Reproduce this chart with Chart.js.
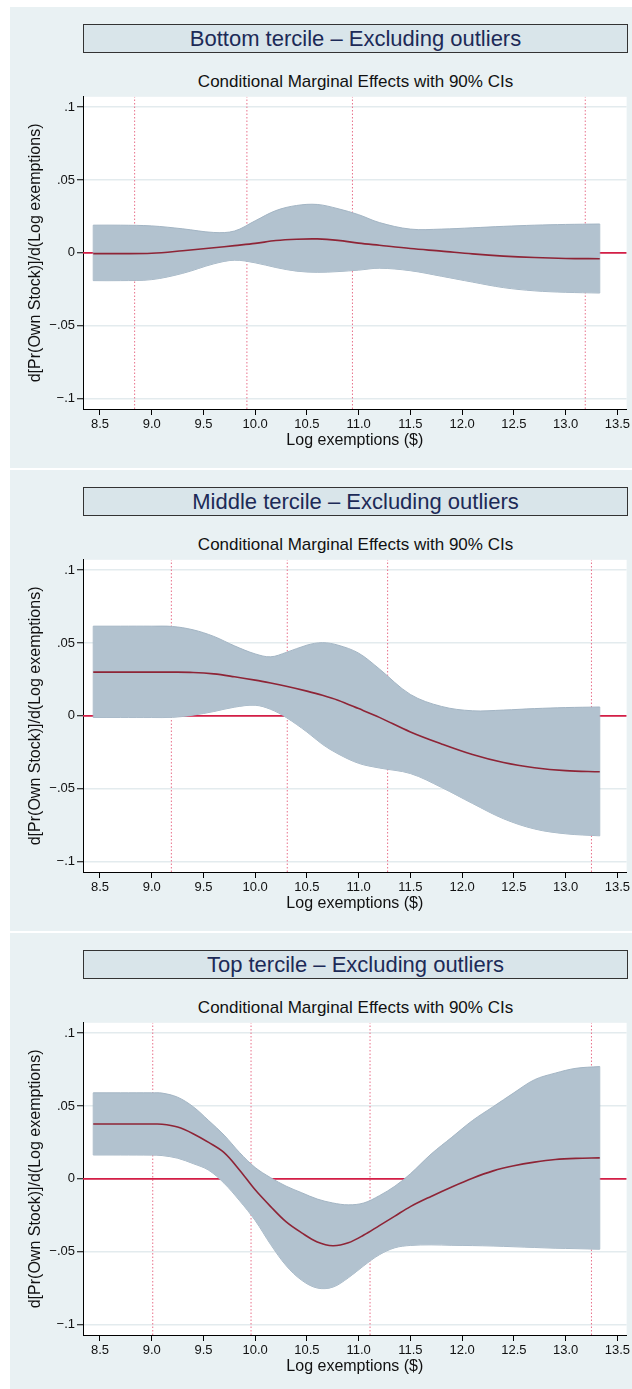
<!DOCTYPE html>
<html lang="en">
<head>
  <meta charset="UTF-8" />
  <title>Conditional Marginal Effects by tercile</title>
  <script src="https://cdn.jsdelivr.net/npm/chart.js"></script>
  <style>
    * { box-sizing: border-box; margin: 0; padding: 0; }
    html, body {
      width: 632px;
      height: 1389px;
      overflow: hidden;
      background: #ffffff;
      font-family: 'Liberation Sans', Arial, sans-serif;
    }
    .panel {
      position: absolute;
      left: 10px;
      width: 622px;
      height: 461px;
      background: #e9f1f3;
    }
    .tbox {
      position: absolute;
      left: 73px;
      top: 17px;
      width: 545px;
      height: 29px;
      border: 1px solid #333;
      background: #d9e5ea;
      color: #1c2a57;
      font-size: 22px;
      line-height: 27px;
      text-align: center;
    }
    .sub {
      position: absolute;
      left: 73px;
      top: 64px;
      width: 545px;
      height: 22px;
      font-size: 17px;
      line-height: 22px;
      text-align: center;
      color: #111;
    }
    .panel canvas {
      position: absolute;
      left: 0;
      top: 80px;
    }
  </style>
</head>
<body>
  <div class="panel" style="top:7px">
    <div class="tbox">Bottom tercile – Excluding outliers</div>
    <div class="sub">Conditional Marginal Effects with 90% CIs</div>
    <canvas id="c0" width="622" height="381"></canvas>
  </div>
  <div class="panel" style="top:470px">
    <div class="tbox">Middle tercile – Excluding outliers</div>
    <div class="sub">Conditional Marginal Effects with 90% CIs</div>
    <canvas id="c1" width="622" height="381"></canvas>
  </div>
  <div class="panel" style="top:933px">
    <div class="tbox">Top tercile – Excluding outliers</div>
    <div class="sub">Conditional Marginal Effects with 90% CIs</div>
    <canvas id="c2" width="622" height="381"></canvas>
  </div>

  <script>
    // axis ticks (shared by the three panels)
    const xTicks = [8.5, 9.0, 9.5, 10.0, 10.5, 11.0, 11.5, 12.0, 12.5, 13.0, 13.5];
    const yTicks = [-0.1, -0.05, 0, 0.05, 0.1];
    const yTickLabels = ['\u2212.1', '\u2212.05', '0', '.05', '.1'];
    const xRange = [8.336, 13.59];
    const yRange = [-0.107, 0.107];

    // bottom tercile
    const bottomX     = [8.435, 8.7, 9.0, 9.3, 9.6, 9.8, 10.0, 10.2, 10.4, 10.6, 10.8, 11.0, 11.2, 11.5, 11.8, 12.1, 12.4, 12.7, 13.0, 13.33];
    const bottomUpper = [0.0190, 0.0190, 0.0185, 0.0165, 0.0140, 0.0150, 0.0220, 0.0290, 0.0325, 0.0332, 0.0303, 0.0262, 0.0208, 0.0163, 0.0163, 0.0172, 0.0182, 0.0190, 0.0195, 0.0198];
    const bottomMid   = [-0.0005, -0.0005, -0.0002, 0.0015, 0.0035, 0.0050, 0.0065, 0.0085, 0.0094, 0.0096, 0.0086, 0.0067, 0.0052, 0.0030, 0.0012, -0.0007, -0.0022, -0.0032, -0.0038, -0.0040];
    const bottomLower = [-0.0190, -0.0190, -0.0183, -0.0140, -0.0075, -0.0050, -0.0068, -0.0100, -0.0125, -0.0133, -0.0128, -0.0118, -0.0105, -0.0122, -0.0160, -0.0200, -0.0238, -0.0260, -0.0270, -0.0275];
    const bottomPctl  = [8.835, 9.92, 10.94, 13.19];

    // middle tercile
    const middleX     = [8.435, 8.7, 9.0, 9.2, 9.4, 9.6, 9.8, 10.0, 10.15, 10.3, 10.5, 10.65, 10.8, 11.0, 11.2, 11.5, 11.8, 12.1, 12.4, 12.7, 13.0, 13.33];
    const middleUpper = [0.0615, 0.0615, 0.0615, 0.0613, 0.0590, 0.0545, 0.0480, 0.0425, 0.0405, 0.0435, 0.0485, 0.0502, 0.0485, 0.0430, 0.0322, 0.0147, 0.0065, 0.0035, 0.0040, 0.0050, 0.0057, 0.0061];
    const middleMid   = [0.0300, 0.0300, 0.0300, 0.0300, 0.0298, 0.0288, 0.0268, 0.0245, 0.0225, 0.0203, 0.0170, 0.0142, 0.0108, 0.0050, -0.0010, -0.0110, -0.0192, -0.0265, -0.0320, -0.0355, -0.0375, -0.0383];
    const middleLower = [-0.0011, -0.0011, -0.0011, -0.0010, 0.0005, 0.0030, 0.0060, 0.0073, 0.0045, -0.0011, -0.0110, -0.0195, -0.0260, -0.0325, -0.0357, -0.0395, -0.0490, -0.0600, -0.0705, -0.0775, -0.0808, -0.0822];
    const middlePctl  = [9.19, 10.31, 11.28, 13.25];

    // top tercile
    const topX     = [8.435, 8.7, 9.0, 9.1, 9.25, 9.4, 9.55, 9.7, 9.85, 10.0, 10.15, 10.3, 10.45, 10.6, 10.75, 10.9, 11.05, 11.2, 11.35, 11.5, 11.7, 11.9, 12.1, 12.3, 12.5, 12.7, 12.9, 13.1, 13.33];
    const topUpper = [0.0590, 0.0590, 0.0590, 0.0588, 0.0560, 0.0495, 0.0400, 0.0300, 0.0180, 0.0078, 0.0008, -0.0050, -0.0095, -0.0138, -0.0165, -0.0178, -0.0165, -0.0115, -0.0050, 0.0035, 0.0170, 0.0285, 0.0400, 0.0495, 0.0590, 0.0680, 0.0725, 0.0758, 0.0770];
    const topMid   = [0.0376, 0.0376, 0.0376, 0.0375, 0.0355, 0.0310, 0.0250, 0.0180, 0.0060, -0.0075, -0.0190, -0.0295, -0.0370, -0.0432, -0.0458, -0.0438, -0.0385, -0.0320, -0.0255, -0.0190, -0.0120, -0.0055, 0.0005, 0.0055, 0.0090, 0.0115, 0.0133, 0.0141, 0.0144];
    const topLower = [0.0164, 0.0164, 0.0163, 0.0160, 0.0142, 0.0105, 0.0060, -0.0030, -0.0150, -0.0285, -0.0450, -0.0595, -0.0695, -0.0748, -0.0742, -0.0678, -0.0595, -0.0520, -0.0472, -0.0456, -0.0452, -0.0455, -0.0457, -0.0460, -0.0465, -0.0470, -0.0475, -0.0478, -0.0482];
    const topPctl  = [9.01, 9.96, 11.11, 13.25];

    const FONT = "'Liberation Sans', Arial, sans-serif";

    // white plot region behind everything
    const plotBg = {
      id: 'plotBg',
      beforeDraw(chart) {
        const a = chart.chartArea, ctx = chart.ctx;
        ctx.save();
        ctx.fillStyle = '#ffffff';
        ctx.fillRect(a.left, a.top, a.right - a.left, a.bottom - a.top);
        ctx.restore();
      }
    };

    const pts = (xs, ys) => xs.map((x, i) => ({ x: x, y: ys[i] }));

    function drawPanel(id, xs, hi, mid, lo, pctl) {
      const n = xs.length - 1;
      const edge = '#a3b5c4';
      const datasets = [
        { data: pts(xs, mid), borderColor: '#8e2436', borderWidth: 1.6, pointRadius: 0, fill: false, tension: 0.35 },
        { data: pts(xs, hi), borderColor: edge, borderWidth: 1, pointRadius: 0, fill: '+1', backgroundColor: '#b2c2cf', tension: 0.35 },
        { data: pts(xs, lo), borderColor: edge, borderWidth: 1, pointRadius: 0, fill: false, tension: 0.35 },
        // closing edges at both ends of the band
        { data: [{ x: xs[0], y: lo[0] }, { x: xs[0], y: hi[0] }], borderColor: edge, borderWidth: 1, pointRadius: 0, fill: false },
        { data: [{ x: xs[n], y: lo[n] }, { x: xs[n], y: hi[n] }], borderColor: edge, borderWidth: 1, pointRadius: 0, fill: false },
        { data: [{ x: xRange[0], y: 0 }, { x: xRange[1], y: 0 }], borderColor: '#d41e46', borderWidth: 1.6, pointRadius: 0, fill: false }
      ];
      pctl.forEach(v => datasets.push({
        data: [{ x: v, y: yRange[0] }, { x: v, y: yRange[1] }],
        borderColor: '#e8708a', borderWidth: 1, borderDash: [1.5, 2], pointRadius: 0, fill: false
      }));

      new Chart(document.getElementById(id), {
        type: 'line',
        data: { datasets: datasets },
        plugins: [plotBg],
        options: {
          responsive: false,
          animation: false,
          events: [],
          layout: { padding: { top: 6, right: 1, left: 0, bottom: 0 } },
          plugins: { legend: { display: false }, tooltip: { enabled: false } },
          scales: {
            x: {
              type: 'linear',
              min: xRange[0],
              max: xRange[1],
              afterBuildTicks: s => { s.ticks = xTicks.map(v => ({ value: v })); },
              afterFit: s => { s.height = 59; },
              grid: { drawOnChartArea: false, drawTicks: true, tickLength: 6, tickColor: '#000' },
              border: { display: true, color: '#000', width: 1 },
              ticks: {
                autoSkip: false, maxRotation: 0, padding: 2, color: '#111',
                font: { family: FONT, size: 13 },
                callback: v => v.toFixed(1)
              },
              title: {
                display: true, text: 'Log exemptions ($)', color: '#111',
                font: { family: FONT, size: 16 }, padding: { top: 0, bottom: 18 }
              }
            },
            y: {
              type: 'linear',
              min: yRange[0],
              max: yRange[1],
              afterBuildTicks: s => { s.ticks = yTicks.map(v => ({ value: v })); },
              afterFit: s => { s.width = 73; },
              grid: { drawOnChartArea: true, color: '#e3ebee', lineWidth: 1.5, drawTicks: true, tickLength: 6, tickColor: '#000', tickWidth: 1 },
              border: { display: true, color: '#000', width: 1 },
              ticks: {
                padding: 2, color: '#111',
                font: { family: FONT, size: 13 },
                callback: v => yTickLabels[yTicks.findIndex(t => Math.abs(t - v) < 1e-9)]
              },
              title: {
                display: true, text: 'd[Pr(Own Stock)]/d(Log exemptions)', color: '#111',
                font: { family: FONT, size: 16 }, padding: { top: 16, bottom: 0 }
              }
            }
          }
        }
      });
    }

    drawPanel('c0', bottomX, bottomUpper, bottomMid, bottomLower, bottomPctl);
    drawPanel('c1', middleX, middleUpper, middleMid, middleLower, middlePctl);
    drawPanel('c2', topX, topUpper, topMid, topLower, topPctl);
  </script>
</body>
</html>
